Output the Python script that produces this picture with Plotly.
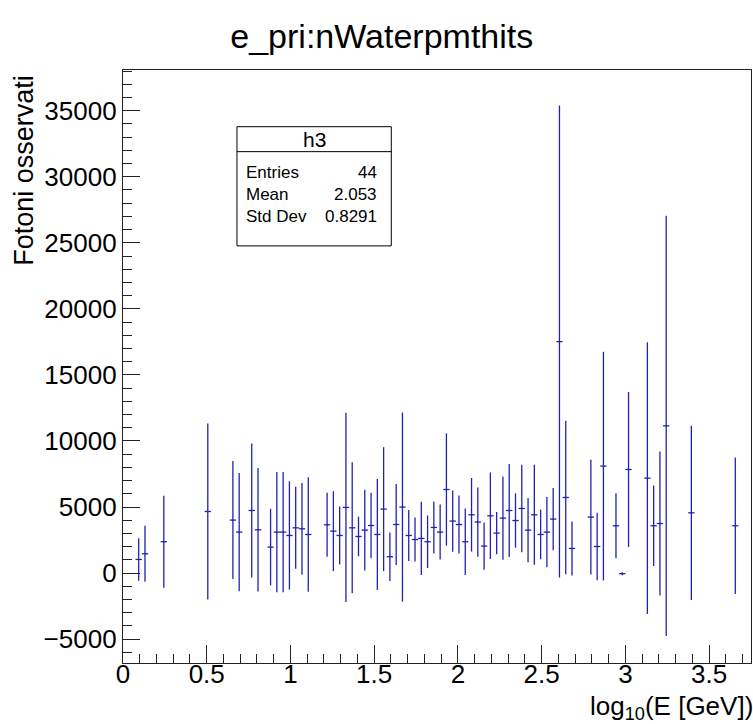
import plotly.graph_objects as go

# bin centres (log10 E [GeV]), profile means and their errors
x_vals = [0.09375, 0.13125, 0.24375, 0.50625, 0.65625, 0.69375, 0.76875, 0.80625,
          0.88125, 0.91875, 0.95625, 0.99375, 1.03125, 1.06875, 1.10625, 1.21875,
          1.25625, 1.29375, 1.33125, 1.36875, 1.40625, 1.44375, 1.48125, 1.51875,
          1.55625, 1.59375, 1.63125, 1.66875, 1.70625, 1.74375, 1.78125, 1.81875,
          1.85625, 1.89375, 1.93125, 1.96875, 2.00625, 2.04375, 2.08125, 2.11875,
          2.15625, 2.19375, 2.23125, 2.26875, 2.30625, 2.34375, 2.38125, 2.41875,
          2.45625, 2.49375, 2.53125, 2.56875, 2.60625, 2.64375, 2.68125, 2.79375,
          2.83125, 2.86875, 2.94375, 2.98125, 3.01875, 3.13125, 3.16875, 3.20625,
          3.24375, 3.39375, 3.65625]
y_vals = [1030, 1460, 2370, 4660, 4010, 3100, 4735, 3275,
          1965, 3100, 3100, 2845, 3425, 3350, 2920, 3650,
          3175, 2845, 4965, 3425, 2770, 3250, 3600, 2920,
          4840, 1235, 3675, 4995, 2845, 2540, 2620, 2370,
          3450, 3100, 6325, 3935, 3675, 2370, 4410, 3860,
          2040, 4335, 3025, 4160, 4735, 3975, 4890, 3250,
          4410, 2920, 3100, 4085, 17520, 5720, 1860, 4235,
          2010, 8095, 3580, -50, 7840, 7185, 3580, 3750,
          11145, 4560, 3580]
y_errs = [1605, 2118, 3480, 6670, 4465, 4478, 5080, 4670,
          2900, 4555, 4555, 4100, 3100, 3470, 4338, 2420,
          3025, 2195, 7160, 4955, 1503, 3063, 2473, 4200,
          4690, 1843, 3065, 7160, 1930, 1665, 2773, 1990,
          1968, 2080, 4250, 2318, 2195, 2523, 2785, 2623,
          1793, 3280, 1593, 3153, 3528, 2055, 3313, 2423,
          3783, 1880, 2663, 2358, 17865, 5810, 2043, 4350,
          2550, 8653, 2460, 120, 5863, 10290, 3043, 5448,
          15903, 6593, 5170]
bin_half_width = 0.01875

stats_labels = ["Entries", "Mean", "Std Dev"]
stats_values = ["44", "2.053", "0.8291"]

col = "#2222b0"
font = "Liberation Sans"

fig = go.Figure()
fig.add_trace(go.Scatter(
    x=x_vals, y=y_vals, mode="markers",
    marker=dict(size=1, color=col),
    error_y=dict(type="data", array=y_errs, visible=True, color=col, thickness=1.3, width=0),
    error_x=dict(type="constant", value=bin_half_width, visible=True, color=col, thickness=1.3, width=0),
    showlegend=False, hoverinfo="skip",
))

axis_common = dict(
    showgrid=False, zeroline=False, showline=True, linecolor="#222222", linewidth=1.3,
    mirror=True, ticks="inside", tickcolor="#222222", tickwidth=1.2,
    tickfont=dict(family=font, size=26, color="black"),
)
fig.update_xaxes(range=[0, 3.75], dtick=0.5, tick0=0, ticklen=18, ticklabelstandoff=-12,
                 minor=dict(dtick=0.1, ticklen=9, ticks="inside", tickcolor="#222222"),
                 **axis_common)
fig.update_yaxes(range=[-6809, 38080], dtick=5000, tick0=0, ticklen=17, tickformat="d",
                 minor=dict(dtick=1000, ticklen=9, ticks="inside", tickcolor="#222222"),
                 **axis_common)

fig.update_layout(
    width=753, height=724,
    margin=dict(l=123, r=2, t=70, b=61),
    paper_bgcolor="white", plot_bgcolor="white",
    title=dict(text="e_pri:nWaterpmthits", x=0.507, xanchor="center",
               y=1 - 36 / 724, yanchor="middle",
               font=dict(family=font, size=34, color="black")),
)

# axis titles (ROOT style: aligned at the axis ends)
fig.add_annotation(text="log<sub>10</sub>(E [GeV])", xref="paper", yref="paper",
                   x=1.0, y=0, xanchor="right", yanchor="top", yshift=-26, xshift=4,
                   showarrow=False, font=dict(family=font, size=26, color="black"))
fig.add_annotation(text="Fotoni osservati", xref="paper", yref="paper",
                   x=-0.1588, y=1.0, xanchor="center", yanchor="top", textangle=-90,
                   yshift=-3,
                   showarrow=False, font=dict(family=font, size=27, color="black"))

# statistics box
bx0, bx1, by0, by1, bdiv = 0.1815, 0.4272, 0.7034, 0.9044, 0.8623
fig.add_shape(type="rect", xref="paper", yref="paper", x0=bx0, x1=bx1, y0=by0, y1=by1,
              line=dict(color="black", width=1), fillcolor="white", layer="above")
fig.add_shape(type="line", xref="paper", yref="paper", x0=bx0, x1=bx1, y0=bdiv, y1=bdiv,
              line=dict(color="black", width=1), layer="above")
fig.add_annotation(text="h3", xref="paper", yref="paper", x=(bx0 + bx1) / 2, y=0.882,
                   xanchor="center", yanchor="middle", showarrow=False,
                   font=dict(family=font, size=21, color="black"))
row_y = [0.8269, 0.7893, 0.7527]
for lab, val, yy in zip(stats_labels, stats_values, row_y):
    fig.add_annotation(text=lab, xref="paper", yref="paper", x=0.192, y=yy,
                       xanchor="left", yanchor="middle", showarrow=False,
                       font=dict(family=font, size=17, color="black"))
    fig.add_annotation(text=val, xref="paper", yref="paper", x=0.4081, y=yy,
                       xanchor="right", yanchor="middle", showarrow=False,
                       font=dict(family=font, size=17, color="black"))

fig.write_html("out.html")
